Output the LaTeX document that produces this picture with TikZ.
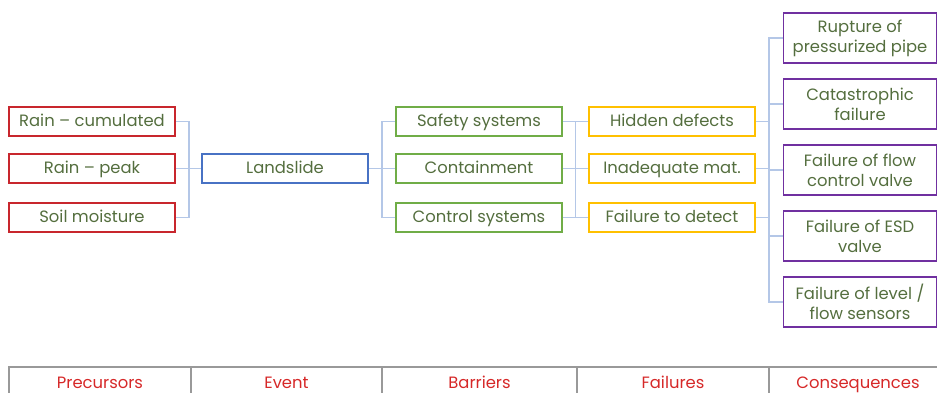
\documentclass[tikz,border=0pt]{standalone}
\usepackage{fontspec}
\setmainfont{Poppins}
\usetikzlibrary{calc}
\definecolor{prered}{RGB}{200,38,45}
\definecolor{evblue}{RGB}{72,114,196}
\definecolor{bargreen}{RGB}{112,173,71}
\definecolor{failyellow}{RGB}{255,192,0}
\definecolor{conpurple}{RGB}{112,48,160}
\definecolor{linkblue}{RGB}{180,199,231}
\definecolor{txtgreen}{RGB}{84,110,62}
\definecolor{headred}{RGB}{214,40,40}
\tikzset{
  box/.style={draw,line width=1.2pt,minimum width=124.5pt,minimum height=21.75pt,
    inner sep=0pt,text=txtgreen,font=\fontsize{12.3}{13}\selectfont,
    text height=9.5pt,text depth=2pt},
  prebox/.style={box,draw=prered},
  evbox/.style={box,draw=evblue},
  barbox/.style={box,draw=bargreen},
  failbox/.style={box,draw=failyellow},
  conbox/.style={draw,line width=1.2pt,draw=conpurple,minimum width=115pt,
    minimum height=37.5pt,inner sep=0pt,text=txtgreen,align=center,
    font=\fontsize{12.3}{15}\selectfont},
  link/.style={draw=linkblue,line width=0.8pt},
  grid/.style={draw=gray!80,line width=0.9pt},
  head/.style={text=headred,font=\fontsize{12.3}{13}\selectfont,anchor=base}
}
\begin{document}
\begin{tikzpicture}[x=0.75pt,y=-0.75pt]
    \useasboundingbox (0,0) rectangle (937,392);
    % precursors
    \node[prebox] (rc) at (92,121.5) {Rain -- cumulated};
    \node[prebox] (rp) at (92,168.5) {Rain -- peak};
    \node[prebox] (sm) at (92,217.5) {Soil moisture};
    % event
    \node[evbox] (ls) at (285,168.5) {Landslide};
    % barriers
    \node[barbox] (ss) at (479,121.5) {Safety systems};
    \node[barbox] (ct) at (479,168.5) {Containment};
    \node[barbox] (cs) at (479,217.5) {Control systems};
    % failures
    \node[failbox] (hd) at (672,121.5) {Hidden defects};
    \node[failbox] (im) at (672,168.5) {Inadequate mat.};
    \node[failbox] (fd) at (672,217.5) {Failure to detect};
    % consequences
    \node[conbox] (c1) at (860,38) {Rupture of\\pressurized pipe};
    \node[conbox] (c2) at (860,104) {Catastrophic\\failure};
    \node[conbox] (c3) at (860,170) {Failure of flow\\control valve};
    \node[conbox] (c4) at (860,236) {Failure of ESD\\valve};
    \node[conbox] (c5) at (860,302) {Failure of level /\\flow sensors};

    \coordinate (b1) at (189,168.5);
    \coordinate (b2) at (382,168.5);
    \coordinate (b4) at (769,168.5);

    \draw[link] (rc.east) -| (b1);
    \draw[link] (sm.east) -| (b1);
    \draw[link] (rp.east) -- (ls.west);

    \draw[link] (ss.west) -| (b2);
    \draw[link] (cs.west) -| (b2);
    \draw[link] (ls.east) -- (ct.west);

    \draw[link] (ss.east) -- (hd.west);
    \draw[link] (ct.east) -- (im.west);
    \draw[link] (cs.east) -- (fd.west);
    \draw[link] ($(ss.east)!0.5!(hd.west)$) -- ($(cs.east)!0.5!(fd.west)$);

    \draw[link] (c1.west) -- (c1.west -| b4) |- (c5.west);
    \draw[link] (c2.west) -- (c2.west -| b4);
    \draw[link] (c3.west) -- (c3.west -| b4);
    \draw[link] (c4.west) -- (c4.west -| b4);
    \draw[link] (hd.east) -- (hd.east -| b4);
    \draw[link] (im.east) -- (im.east -| b4);
    \draw[link] (fd.east) -- (fd.east -| b4);

    % table of stages
    \draw[grid] (9,395) -- (9,367) -- (940,367);
    \foreach \x in {191,382,577,769}
        \draw[grid] (\x,367) -- (\x,395);
    \node[head] (h1) at (100,388) {Precursors};
    \node[head] (h2) at (286.5,388) {Event};
    \node[head] (h3) at (479.5,388) {Barriers};
    \node[head] (h4) at (673,388) {Failures};
    \node[head] (h5) at (858,388) {Consequences};
\end{tikzpicture}
\end{document}
